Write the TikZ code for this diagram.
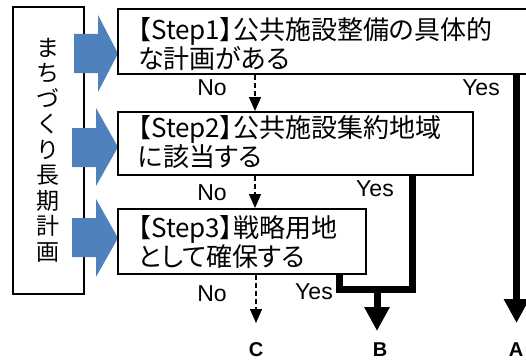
\documentclass[tikz,border=0pt]{standalone}
\usepackage{fontspec}
\setmainfont{Liberation Sans}
\newfontfamily\jp[RawFeature=+palt]{Noto Sans CJK JP}
\newfontfamily\jpv{Noto Sans CJK JP}
\usetikzlibrary{arrows.meta}
\definecolor{arrblue}{RGB}{79,129,189}
\begin{document}
\begin{tikzpicture}[x=1pt,y=-1pt,
  box/.style={draw,line width=1.6pt,fill=white,rectangle,inner sep=0pt,anchor=north west},
  jt/.style={font=\jp\fontsize{26}{29}\selectfont,anchor=base west,inner sep=0pt},
  vt/.style={font=\jpv\fontsize{23}{25.5}\selectfont,align=center,inner sep=0pt},
  lab/.style={font=\fontsize{23}{23}\selectfont,inner sep=0pt},
  endlab/.style={font=\bfseries\fontsize{20}{20}\selectfont,inner sep=0pt},
  dsh/.style={line width=1.4pt,dash pattern=on 5pt off 3pt,-{Triangle[width=12pt,length=14pt]}},
  fat/.style={line width=7pt,line join=miter},
  fatarr/.style={line width=7pt,-{Triangle[width=24pt,length=24pt]}},
  bluearr/.style={fill=arrblue}
]
\useasboundingbox (0,0) rectangle (526,361);
\clip (0,0) rectangle (526,361);

% long-term plan box
\node[box,minimum width=71pt,minimum height=287pt] (plan) at (12,6) {};
\node[vt] (plantext) at (47.5,150) {ま\\ち\\づ\\く\\り\\長\\期\\計\\画};

% blue block arrows
\fill[bluearr] (74,34) -- (98,34) -- (98,15) -- (118,53.5) -- (98,92) -- (98,73) -- (74,73) -- cycle;
\fill[bluearr] (72,128) -- (96,128) -- (96,108) -- (118,147) -- (96,186) -- (96,167) -- (72,167) -- cycle;
\fill[bluearr] (72,218) -- (96,218) -- (96,199) -- (118,238) -- (96,277) -- (96,257) -- (72,257) -- cycle;

% step boxes
\node[box,minimum width=430pt,minimum height=65pt] (box1) at (117,8) {};
\node[box,minimum width=355pt,minimum height=63pt] (box2) at (117,111) {};
\node[box,minimum width=248pt,minimum height=65pt] (box3) at (117,208) {};

\node[jt] (b1a) at (138,39.5) {【Step1】公共施設整備の具体的};
\node[jt] (b1b) at (138,68.5) {な計画がある};
\node[jt] (b2a) at (138,137.5) {【Step2】公共施設集約地域};
\node[jt] (b2b) at (138,166.5) {に該当する};
\node[jt] (b3a) at (138,237.5) {【Step3】戦略用地};
\node[jt] (b3b) at (138,266.5) {として確保する};

% coordinates for connectors
\coordinate (xd) at (255,0);
\coordinate (xA) at (516.5,0);
\coordinate (xB2) at (412,0);
\coordinate (xB3) at (339,0);
\coordinate (tC) at (256,323);
\coordinate (tA) at (516.5,323);
\coordinate (jR) at (412,289.5);
\coordinate (jL) at (339,289.5);
\coordinate (jM) at (377,289.5);
\coordinate (tB) at (377,331);

% No connectors
\draw[dsh] (box1.south -| xd) -- (box2.north -| xd);
\draw[dsh] (box2.south -| xd) -- (box3.north -| xd);
\draw[dsh] (box3.south -| tC) -- (tC);

% Yes connectors
\draw[fatarr] (box1.south -| xA) -- (tA);
\draw[fat] (box2.south -| xB2) -- (jR) -- (jL) -- (box3.south -| xB3);
\draw[fatarr] (jM) -- (tB);

% labels
\node[lab] (no1) at (212,88) {No};
\node[lab] (yes1) at (481,88) {Yes};
\node[lab] (no2) at (212,193) {No};
\node[lab] (yes2) at (375,189) {Yes};
\node[lab] (no3) at (212,294) {No};
\node[lab] (yes3) at (314,292) {Yes};

\node[endlab] (C) at (256,350) {C};
\node[endlab] (B) at (380,350) {B};
\node[endlab] (A) at (516,350) {A};
\end{tikzpicture}
\end{document}
